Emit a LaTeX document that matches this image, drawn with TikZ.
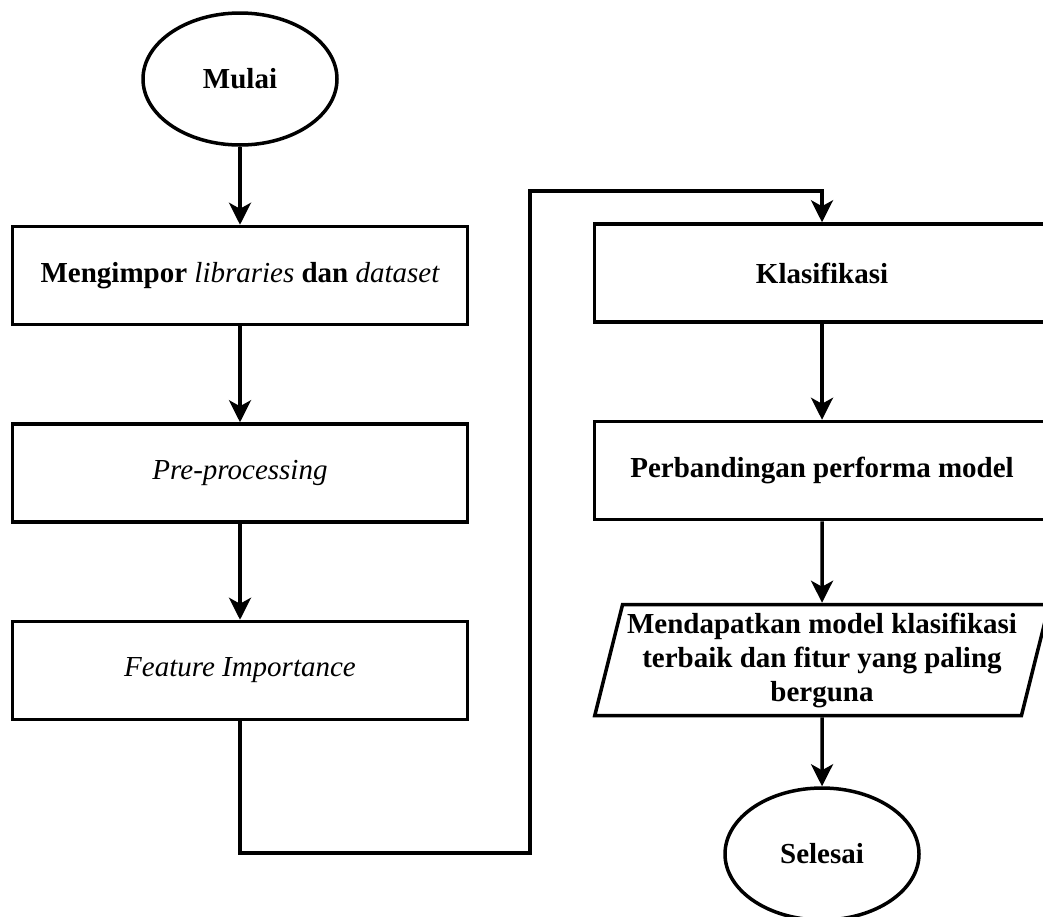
\documentclass[tikz,border=0pt]{standalone}
\usepackage{fontspec}
\setmainfont{Liberation Serif}
\usetikzlibrary{positioning}
\usetikzlibrary{shapes.geometric}
\usetikzlibrary{arrows.meta}
\newcommand{\itl}[1]{{\mdseries\itshape #1}}

\begin{document}
\begin{tikzpicture}[x=1pt, y=-1pt]
    \tikzset{ trm/.style ={draw, ellipse, line width=3.5pt, minimum width=194pt, minimum height=132pt, font=\fontsize{29}{35}\selectfont\bfseries} }
    \tikzset{ prc/.style ={draw, rectangle, line width=3.5pt, minimum width=455pt, minimum height=98pt, font=\fontsize{29}{35}\selectfont\bfseries} }
    \tikzset{ iob/.style ={draw, trapezium, trapezium left angle=74, trapezium right angle=106, trapezium stretches=true, line width=3.5pt, minimum width=456pt, minimum height=111pt, inner sep=0pt, align=center, font=\fontsize{29}{34}\selectfont\bfseries} }
    \tikzset{ flw/.style ={->, >={Stealth[length=22pt, width=22pt, inset=6pt]}, line width=3.5pt} }

    \useasboundingbox (0,0) rectangle (1043,916);

    \node[trm                    ] (start) at (240,79)  {Mulai};
    \node[prc, below=78pt of start] (imp)              {Mengimpor \itl{libraries} dan \itl{dataset}};
    \node[prc, below=96pt of imp ] (pre)               {\itl{Pre-processing}};
    \node[prc, below=96pt of pre ] (feat)              {\itl{Feature Importance}};
    \node[prc                    ] (kla)   at (822,273) {Klasifikasi};
    \node[prc, below=96pt of kla ] (perb)              {Perbandingan performa model};
    \node[iob                    ] (hasil) at (822,660) {Mendapatkan model klasifikasi\\terbaik dan fitur yang paling\\berguna};
    \node[trm                    ] (end)   at (822,854) {Selesai};

    \coordinate (turn) at (530,853);
    \coordinate (up)   at (530,191);

    \draw[flw] (start) -- (imp);
    \draw[flw] (imp)   -- (pre);
    \draw[flw] (pre)   -- (feat);
    \draw[flw] (feat.south) |- (turn) -- (up) -| (kla.north);
    \draw[flw] (kla)   -- (perb);
    \draw[flw] (perb)  -- (hasil);
    \draw[flw] (hasil) -- (end);
\end{tikzpicture}
\end{document}
